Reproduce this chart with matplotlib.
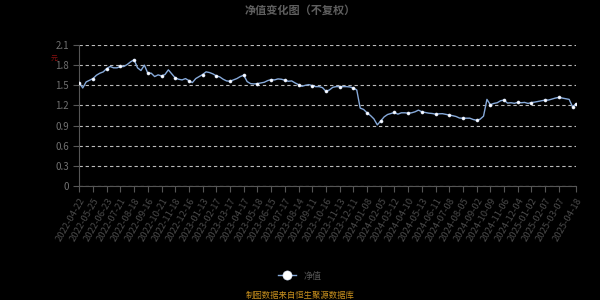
import matplotlib
matplotlib.use("Agg")
import matplotlib.pyplot as plt

plt.rcParams['font.family'] = ['Noto Sans CJK SC', 'DejaVu Sans']

# === 資料：每點約 5 個交易日 === #
nav = [
    1.54, 1.46, 1.55, 1.575, 1.60, 1.65, 1.68, 1.70, 1.75, 1.78,
    1.76, 1.76, 1.78, 1.78, 1.81, 1.85, 1.88, 1.76, 1.72, 1.80,
    1.68, 1.68, 1.63, 1.655, 1.64, 1.66, 1.73, 1.67, 1.61, 1.59,
    1.58, 1.60, 1.57, 1.54, 1.60, 1.63, 1.66, 1.70, 1.69, 1.67,
    1.64, 1.625, 1.59, 1.565, 1.56, 1.58, 1.60, 1.63, 1.65, 1.555,
    1.525, 1.52, 1.525, 1.535, 1.545, 1.57, 1.585, 1.58, 1.595, 1.59,
    1.575, 1.56, 1.565, 1.535, 1.51, 1.485, 1.50, 1.51, 1.495, 1.48,
    1.48, 1.465, 1.41, 1.43, 1.47, 1.48, 1.48, 1.48, 1.48, 1.475,
    1.46, 1.43, 1.16, 1.14, 1.09, 1.05, 1.00, 0.91, 0.97, 1.03,
    1.065, 1.08, 1.095, 1.07, 1.09, 1.09, 1.085, 1.09, 1.105, 1.13,
    1.105, 1.095, 1.085, 1.08, 1.07, 1.075, 1.077, 1.067, 1.057, 1.047,
    1.035, 1.012, 1.01, 1.01, 1.01, 0.99, 0.98, 0.995, 1.04, 1.29,
    1.21, 1.23, 1.24, 1.27, 1.28, 1.235, 1.24, 1.232, 1.245, 1.24,
    1.245, 1.23, 1.243, 1.25, 1.26, 1.27, 1.28, 1.28, 1.295, 1.31,
    1.32, 1.31, 1.30, 1.29, 1.18, 1.225,
]

date_labels = [
    "2022-04-22", "2022-05-25", "2022-06-23", "2022-07-21", "2022-08-18",
    "2022-09-16", "2022-10-21", "2022-11-18", "2022-12-16", "2023-01-13",
    "2023-02-17", "2023-03-17", "2023-04-17", "2023-05-18", "2023-06-15",
    "2023-07-17", "2023-08-14", "2023-09-11", "2023-10-16", "2023-11-13",
    "2023-12-11", "2024-01-08", "2024-02-05", "2024-03-12", "2024-04-10",
    "2024-05-13", "2024-06-11", "2024-07-08", "2024-08-05", "2024-09-02",
    "2024-10-09", "2024-11-06", "2024-12-04", "2025-01-02", "2025-02-07",
    "2025-03-07", "2025-04-18",
]

y_ticks = [0, 0.3, 0.6, 0.9, 1.2, 1.5, 1.8, 2.1]

# 每 4 點一個刻度，最後一個刻度在最後一點
x = list(range(len(nav)))
tick_pos = list(range(0, 4 * (len(date_labels) - 1), 4)) + [len(nav) - 1]

# === 畫圖 === #
fig = plt.figure(figsize=(6, 3), dpi=100, facecolor='black')
ax = fig.add_axes([79.3 / 600, 1 - 186 / 300, (576 - 79.3) / 600, (186 - 45) / 300])
ax.set_facecolor('black')

ax.plot(x, nav, color='#86a9d9', linewidth=1.0, zorder=3,
        marker='o', markersize=2.2, markerfacecolor='white',
        markeredgecolor='#dce8ff', markeredgewidth=0.4,
        markevery=list(range(0, len(nav), 4)) + [len(nav) - 1],
        label='净值')

ax.set_xlim(0, len(nav) - 1)
ax.set_ylim(0, 2.1)
ax.set_yticks(y_ticks)
ax.set_yticklabels([f"{v:g}" for v in y_ticks])
ax.set_xticks(tick_pos)
ax.set_xticklabels(date_labels, rotation=60, ha='right', rotation_mode='anchor')

ax.grid(axis='y', color='#bbbbbb', linestyle=(0, (3, 2.5)), linewidth=0.8)
for s in ['top', 'right']:
    ax.spines[s].set_visible(False)
ax.spines['left'].set_color('#555555')
ax.spines['bottom'].set_color('#555555')
ax.tick_params(axis='y', colors='#555555', labelcolor='#707070', labelsize=7, length=4, width=0.8)
ax.tick_params(axis='x', colors='#555555', labelcolor='#4a4a4a', labelsize=6.8, length=4, width=0.8)

# y 軸單位（紅字）
fig.text(54 / 600, 1 - 58.5 / 300, '元', color='#8b1010', fontsize=5, ha='center', va='center')

# 標題
fig.text(0.5, 1 - 10 / 300, '净值变化图（不复权）', color='#5f5f5f', fontsize=8,
         fontweight='bold', ha='center', va='center')

# 圖例
leg = fig.legend(loc='center', bbox_to_anchor=(0.5, 1 - 276 / 300), frameon=False,
                 fontsize=6.5, handlelength=2, markerscale=3)
for t in leg.get_texts():
    t.set_color('#555555')

# 資料來源
fig.text(0.5, 1 - 295.5 / 300, '制图数据来自恒生聚源数据库', color='#c8901e', fontsize=6,
         ha='center', va='center')

fig.savefig('out.png', dpi=100, facecolor='black')
plt.close(fig)
